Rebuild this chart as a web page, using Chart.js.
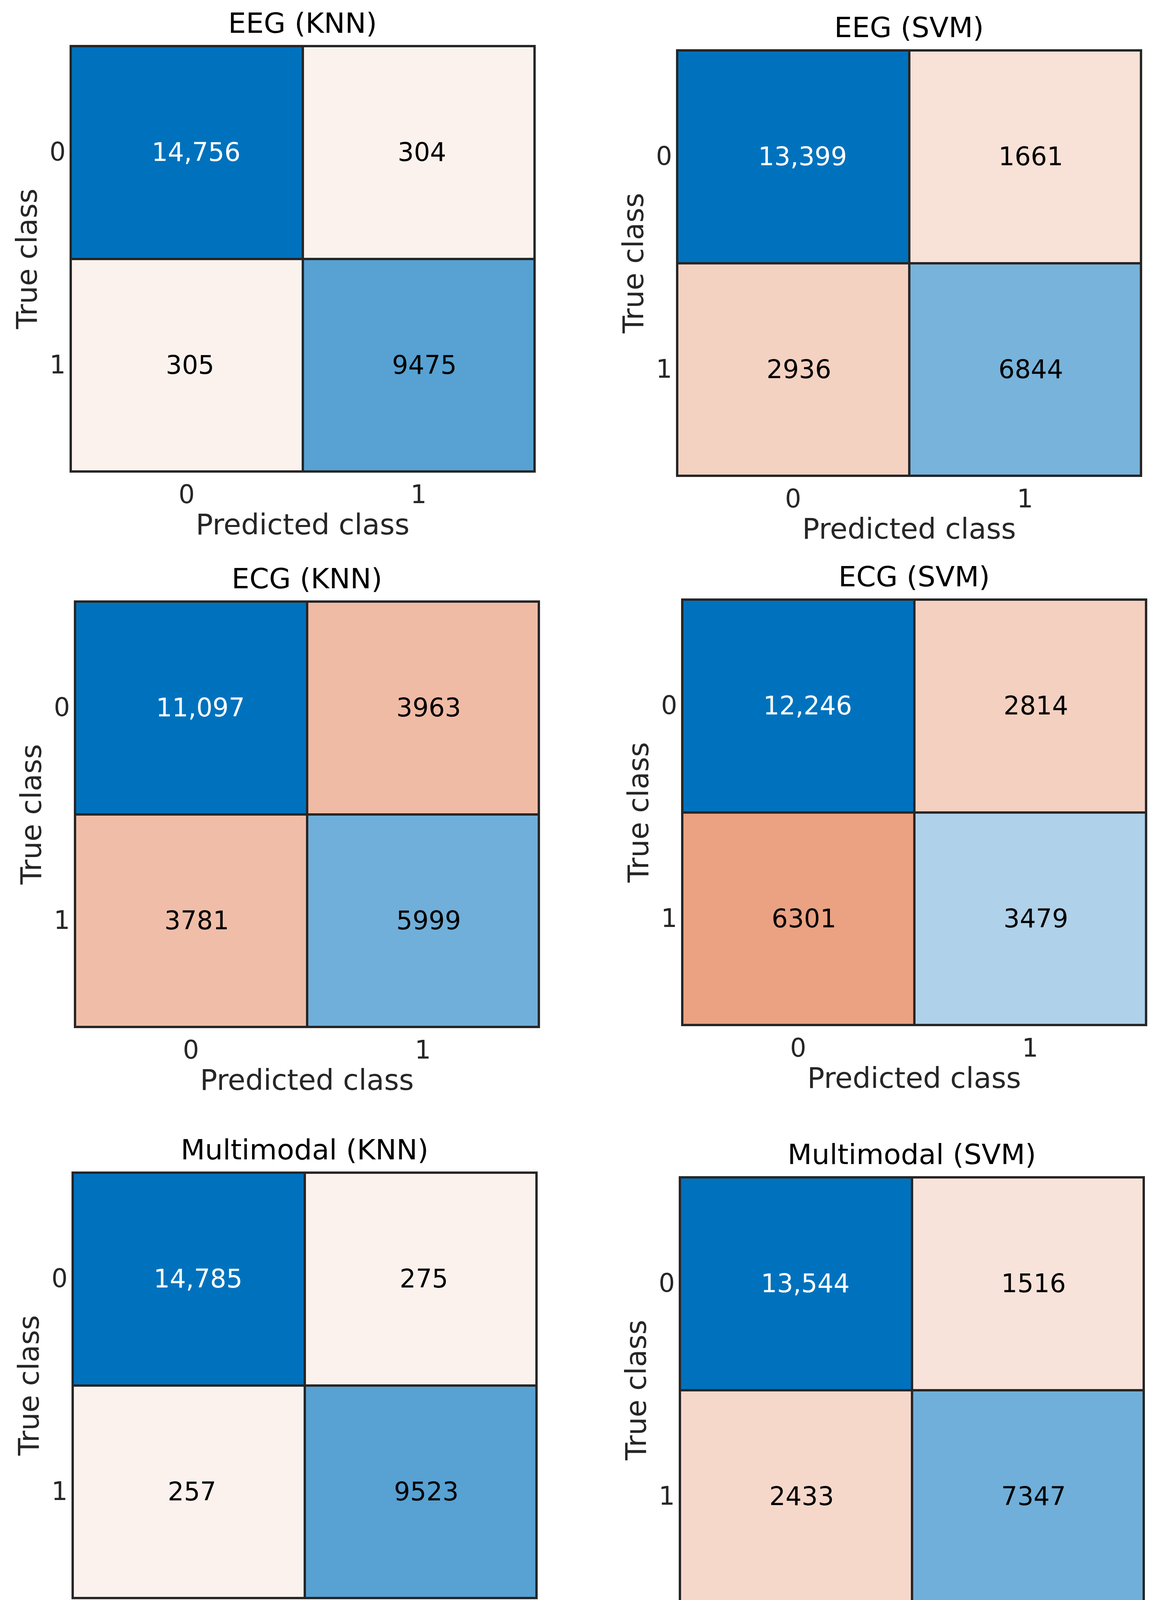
<!DOCTYPE html>
<html>
<head>
<meta charset="utf-8">
<title>Confusion matrices</title>
<script src="https://cdn.jsdelivr.net/npm/chart.js@4.4.1/dist/chart.umd.min.js"></script>
<style>
  html, body { margin: 0; padding: 0; background: #fff; }
  body { width: 2984px; height: 4322px; position: relative; overflow: hidden; }
  canvas { position: absolute; }
</style>
</head>
<body>
<canvas id="c0"></canvas>
<canvas id="c1"></canvas>
<canvas id="c2"></canvas>
<canvas id="c3"></canvas>
<canvas id="c4"></canvas>
<canvas id="c5"></canvas>
<script>
// class names shown on both axes
const classLabels = ['0', '1']
const panelTitles = ['EEG (KNN)', 'EEG (SVM)', 'ECG (KNN)', 'ECG (SVM)', 'Multimodal (KNN)', 'Multimodal (SVM)']
const xTitle = 'Predicted class'
const yTitle = 'True class'

// rows = true class, columns = predicted class
const eegKnn = [[14756, 304], [305, 9475]]
const eegSvm = [[13399, 1661], [2936, 6844]]
const ecgKnn = [[11097, 3963], [3781, 5999]]
const ecgSvm = [[12246, 2814], [6301, 3479]]
const multiKnn = [[14785, 275], [257, 9523]]
const multiSvm = [[13544, 1516], [2433, 7347]]
const matrices = [eegKnn, eegSvm, ecgKnn, ecgSvm, multiKnn, multiSvm]

// where each plot box (top left corner) sits on the page
const boxLeft = [181, 1733, 192, 1746, 186, 1740]
const boxTop = [118, 129, 1540, 1535, 3002, 3014]

const FONT = 'DejaVu Sans'
const edge = '#262626'
// colour ramps: light end -> full colour, scaled by count / largest count
const diagLow = [244, 247, 251], diagHigh = [0, 114, 189]
const offLow = [252, 245, 242], offHigh = [217, 83, 25]

// canvas geometry around the plot box
const padL = 181, padT = 110, plotW = 1187, plotH = 1089, padR = 20, padB = 200

function cellColor(v, max, diag) {
  const lo = diag ? diagLow : offLow
  const hi = diag ? diagHigh : offHigh
  const t = v / max
  const c = lo.map((l, i) => Math.round(l + (hi[i] - l) * t))
  return 'rgb(' + c.join(',') + ')'
}

function textColor(rgb) {
  const [r, g, b] = rgb.match(/\d+/g).map(Number)
  return (0.299 * r + 0.587 * g + 0.114 * b) < 128 ? '#ffffff' : '#000000'
}

function formatCount(v) {
  return v >= 10000 ? v.toLocaleString('en-US') : String(v)
}

const cellText = {
  id: 'cellText',
  afterDatasetsDraw(chart) {
    const ctx = chart.ctx
    ctx.save()
    ctx.font = '65px "' + FONT + '"'
    ctx.textAlign = 'center'
    ctx.textBaseline = 'middle'
    chart.data.datasets.forEach((ds, r) => {
      chart.getDatasetMeta(r).data.forEach((bar, c) => {
        const label = formatCount(ds.counts[c])
        // the original sits a little right of centre, more so for long labels
        const nudge = 0.15 * ctx.measureText(label).width - 10
        ctx.fillStyle = textColor(ds.backgroundColor[c])
        ctx.fillText(label, bar.x + nudge, (bar.y + bar.base) / 2 + 5)
      })
    })
    ctx.restore()
  }
}

const frame = {
  id: 'frame',
  afterDraw(chart) {
    const { ctx, chartArea: a } = chart
    ctx.save()
    ctx.strokeStyle = edge
    ctx.lineWidth = 6
    ctx.lineJoin = 'miter'
    ctx.strokeRect(a.left, a.top, a.right - a.left, a.bottom - a.top)
    ctx.restore()
  }
}

Chart.defaults.font.family = FONT

function makeChart(i) {
  const matrix = matrices[i]
  const max = Math.max(...matrix.flat())
  const canvas = document.getElementById('c' + i)
  canvas.width = padL + plotW + padR
  canvas.height = padT + plotH + padB
  canvas.style.left = (boxLeft[i] - padL) + 'px'
  canvas.style.top = (boxTop[i] - padT) + 'px'

  const datasets = matrix.map((row, r) => ({
    data: row.map(() => [r - 0.5, r + 0.5]),
    counts: row,
    backgroundColor: row.map((v, c) => cellColor(v, max, r === c)),
    borderWidth: 0,
    grouped: false,
    barPercentage: 1,
    categoryPercentage: 1
  }))

  new Chart(canvas, {
    type: 'bar',
    data: { labels: classLabels, datasets: datasets },
    options: {
      responsive: false,
      animation: false,
      layout: { padding: { left: 0, top: 0, right: padR, bottom: 0 } },
      plugins: {
        legend: { display: false },
        tooltip: { enabled: false },
        title: {
          display: true,
          text: panelTitles[i],
          color: '#000000',
          fullSize: false,
          font: { size: 72, weight: 'normal' },
          padding: { top: 13.8, bottom: 9.8 }
        }
      },
      scales: {
        x: {
          type: 'category',
          offset: true,
          grid: { offset: true, color: edge, lineWidth: 6, drawTicks: false, z: 1 },
          border: { display: false },
          ticks: { color: edge, font: { size: 65 }, padding: 24.7 },
          title: { display: true, text: xTitle, color: edge, font: { size: 73 }, padding: { top: 0, bottom: 14.5 } },
          afterFit: (s) => { s.height = padB }
        },
        y: {
          type: 'linear',
          reverse: true,
          min: -0.5,
          max: 1.5,
          grid: {
            color: (c) => Number.isInteger(c.tick.value) ? 'rgba(0,0,0,0)' : edge,
            lineWidth: 6,
            drawTicks: false,
            z: 1
          },
          border: { display: false },
          ticks: {
            stepSize: 0.5,
            color: edge,
            font: { size: 65 },
            padding: 13,
            labelOffset: 4,
            callback: (v) => Number.isInteger(v) ? classLabels[v] : ''
          },
          title: { display: true, text: yTitle, color: edge, font: { size: 73 }, padding: { top: 30.9, bottom: 0 } },
          afterFit: (s) => { s.width = padL }
        }
      }
    },
    plugins: [cellText, frame]
  })
}

for (let i = 0; i < matrices.length; i++) makeChart(i)
</script>
</body>
</html>
